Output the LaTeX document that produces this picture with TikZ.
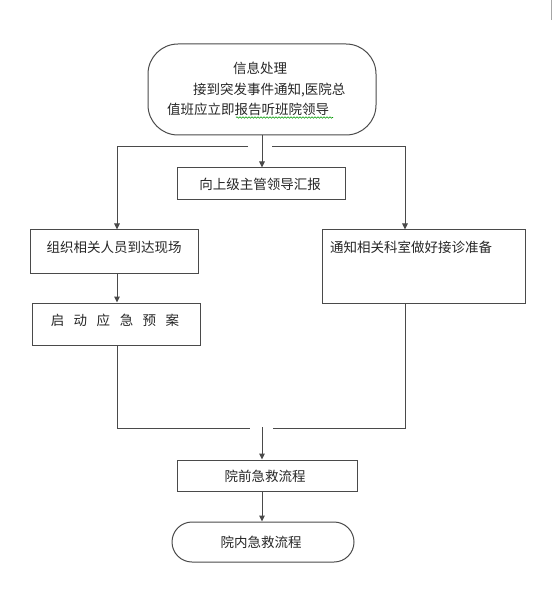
\documentclass[tikz,border=0pt]{standalone}
\usepackage{fontspec}
\newfontfamily\cjk{Noto Sans CJK SC}
\usetikzlibrary{arrows.meta,decorations.pathmorphing}
\definecolor{ln}{HTML}{4A4A4A}
\definecolor{tx}{HTML}{262626}
\tikzset{
  boxs/.style={draw=ln,line width=1pt,rectangle,inner sep=0pt},
  txt/.style={inner sep=0pt,font=\cjk\fontsize{13.5}{16}\selectfont,text=tx},
  conn/.style={draw=ln,line width=1pt},
  arr/.style={conn,-{Triangle[length=6pt,width=5.5pt]}}
}
\begin{document}
\begin{tikzpicture}[x=1pt,y=-1pt]
\useasboundingbox (0,0) rectangle (552,601);
% top rounded box
\node[boxs,rounded corners=30pt,minimum width=228pt,minimum height=91pt] (top) at (262,89.5) {};
\node[txt] (t1) at (260,68) {信息处理};
\node[txt,anchor=west] (t2) at (193,90) {接到突发事件通知,医院总};
\node[txt,anchor=west] (t3) at (167,109) {值班应立即报告听班院领导};
\draw[green!60!black,line width=0.6pt,decorate,decoration={snake,amplitude=0.7pt,segment length=3pt}] (236,117.5) -- (333,117.5);
% report box
\node[boxs,minimum width=168pt,minimum height=32pt] (rep) at (261,184) {};
\node[txt] (rept) at (260,184) {向上级主管领导汇报};
% left box
\node[boxs,minimum width=168pt,minimum height=43pt] (org) at (114,251.5) {};
\node[txt] (orgt) at (114,247) {组织相关人员到达现场};
% right box
\node[boxs,minimum width=203pt,minimum height=73pt] (ntf) at (423.5,266.5) {};
\node[txt,anchor=west] (ntft) at (330,247) {通知相关科室做好接诊准备};
% launch box
\node[boxs,minimum width=168pt,minimum height=42pt] (lau) at (116,324) {};
\node[txt] (laut) at (115,320) {启\hspace{9.5pt}动\hspace{9.5pt}应\hspace{9.5pt}急\hspace{9.5pt}预\hspace{9.5pt}案};
% pre-hospital box
\node[boxs,minimum width=180pt,minimum height=31pt] (pre) at (267,475.5) {};
\node[txt] (pret) at (265,476) {院前急救流程};
% in-hospital stadium
\node[boxs,rounded corners=20pt,minimum width=182pt,minimum height=40pt] (inh) at (263,542) {};
\node[txt] (inht) at (261,542) {院内急救流程};
% connectors
\coordinate (cm) at (262,147);
\coordinate (gl) at (248,147);
\coordinate (gr) at (272,147);
\coordinate (cl) at (117,147);
\coordinate (cr) at (405,147);
\draw[arr] (top.south -| cm) -- (rep.north -| cm);
\draw[arr] (gl) -- (cl) -- (cl |- org.north);
\draw[arr] (gr) -- (cr) -- (cr |- ntf.north);
\draw[arr] (org.south -| cl) -- (lau.north -| cl);
\coordinate (bl) at (250,428);
\coordinate (br) at (273,428);
\coordinate (bm) at (262,427);
\draw[conn] (lau.south -| cl) |- (bl);
\draw[conn] (ntf.south -| cr) |- (br);
\draw[arr] (bm) -- (pre.north -| bm);
\draw[arr] (pre.south -| bm) -- (inh.north -| bm);
\draw[gray!70,line width=1pt] (551.2,0) -- (551.2,20);
\end{tikzpicture}
\end{document}
